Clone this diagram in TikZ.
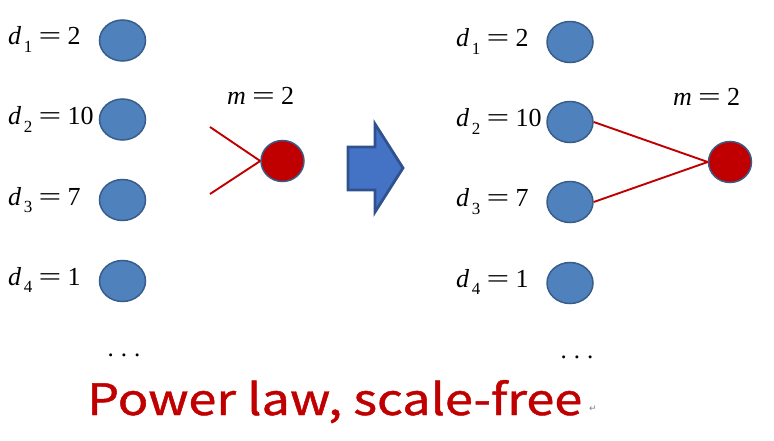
\documentclass[tikz,border=0pt]{standalone}
\usepackage{fontspec}
\setmainfont{Liberation Serif}
\newfontfamily\titlefont[FakeBold=1.0]{Noto Sans CJK SC}
\newfontfamily\symfont{DejaVu Sans}
\usetikzlibrary{shapes.geometric}
\definecolor{nodeblue}{HTML}{4F81BD}
\definecolor{nodeedge}{HTML}{385D8A}
\definecolor{darkred}{HTML}{C00000}
\definecolor{arrowfill}{HTML}{4472C4}
\definecolor{arrowedge}{HTML}{2F528F}
\newcommand\myeq{\hspace{0.24em}\scalebox{1.55}[1]{=}\hspace{0.24em}}
\newcommand\dlab[2]{{\itshape d}\kern0.1em\raisebox{-0.28em}{\fontsize{17}{17}\selectfont #1}\myeq #2}
\newcommand\mlab{{\itshape m}\myeq 2}
\tikzset{
  bluenode/.style={ellipse, draw=nodeedge, line width=1.5pt, fill=nodeblue, minimum width=46pt, minimum height=41pt, inner sep=0pt},
  rednode/.style={ellipse, draw=nodeedge, line width=1.5pt, fill=darkred, minimum width=43pt, minimum height=41pt, inner sep=0pt},
  lab/.style={anchor=base west, inner sep=0pt, font=\fontsize{26}{30}\selectfont},
  link/.style={draw=darkred, line width=1.9pt},
  dots/.style={anchor=base, inner sep=0pt, font=\fontsize{25}{30}\selectfont}
}
\begin{document}
\begin{tikzpicture}[x=1pt, y=-1pt]
\useasboundingbox (0,0) rectangle (774,441);
% left group
\node[bluenode] (a1) at (122.5,40.5) {};
\node[bluenode] (a2) at (122.5,119.5) {};
\node[bluenode] (a3) at (122.5,200) {};
\node[bluenode] (a4) at (122.5,281) {};
\node[lab] (la1) at (8,45) {\dlab{1}{2}};
\node[lab] (la2) at (8,125) {\dlab{2}{10}};
\node[lab] (la3) at (8,205) {\dlab{3}{7}};
\node[lab] (la4) at (8,285) {\dlab{4}{1}};
\node[rednode] (r1) at (282.5,161) {};
\node[lab] (lm1) at (227,105) {\mlab};
\coordinate (e1) at (210,127);
\coordinate (e2) at (210,194);
\draw[link] (e1) -- (r1.west);
\draw[link] (e2) -- (r1.west);
\node[dots] (dl) at (124,356) {.\hspace{7pt}.\hspace{7pt}.};
% arrow
\draw[fill=arrowfill, draw=arrowedge, line width=2.8pt, line join=miter]
  (348,147) -- (375,147) -- (375,124) -- (403,168) -- (375,212) -- (375,190) -- (348,190) -- cycle;
% right group
\node[bluenode] (b1) at (570,42) {};
\node[bluenode] (b2) at (570,122) {};
\node[bluenode] (b3) at (570,202) {};
\node[bluenode] (b4) at (570,283) {};
\node[lab] (lb1) at (456,47) {\dlab{1}{2}};
\node[lab] (lb2) at (456,127) {\dlab{2}{10}};
\node[lab] (lb3) at (456,207) {\dlab{3}{7}};
\node[lab] (lb4) at (456,287) {\dlab{4}{1}};
\node[rednode] (r2) at (730,162) {};
\node[lab] (lm2) at (673,106) {\mlab};
\draw[link] (b2.east) -- (r2.west);
\draw[link] (b3.east) -- (r2.west);
\node[dots] (dr) at (577,358) {.\hspace{7pt}.\hspace{7pt}.};
% title
\node[anchor=base west, inner sep=0pt, text=darkred] (title) at (87,415)
  {\resizebox{495pt}{35pt}{\titlefont Power law, scale-free}};
\node[anchor=base west, inner sep=0pt, text=gray, font=\symfont\fontsize{9}{9}\selectfont] (ret) at (589,411) {↵};
\end{tikzpicture}
\end{document}
